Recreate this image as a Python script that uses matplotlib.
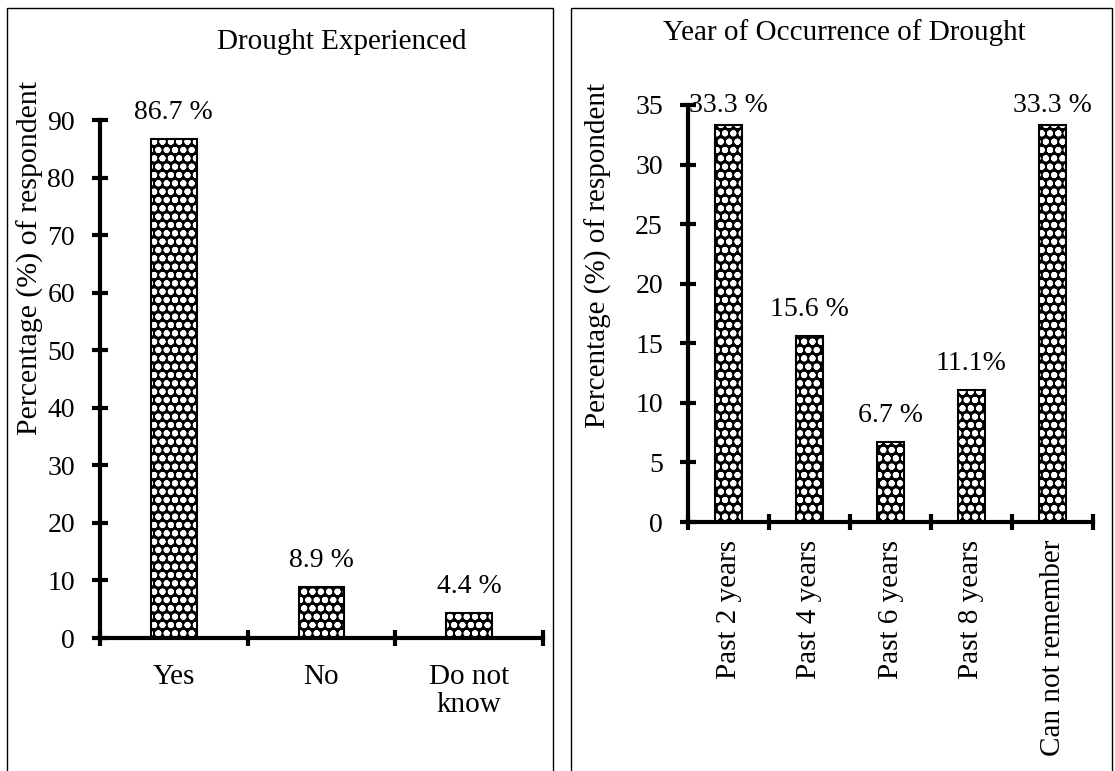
import numpy as np
import matplotlib
matplotlib.use("Agg")
import matplotlib.pyplot as plt
from matplotlib.patches import Rectangle

# data
exp_cats = ["Yes", "No", "Do not\nknow"]
exp_vals = [86.7, 8.9, 4.4]
exp_labels = ["86.7 %", "8.9 %", "4.4 %"]

year_cats = ["Past 2 years", "Past 4 years", "Past 6 years", "Past 8 years", "Can not remember"]
year_vals = [33.3, 15.6, 6.7, 11.1, 33.3]
year_labels = ["33.3 %", "15.6 %", "6.7 %", "11.1%", "33.3 %"]

plt.rcParams['font.family'] = ['Liberation Serif', 'DejaVu Serif']
plt.rcParams['font.size'] = 20
plt.rcParams['hatch.linewidth'] = 2.0

W, H = 1115, 771
fig = plt.figure(figsize=(W / 100, H / 100), dpi=100)

# panel frames
fig.add_artist(Rectangle((7 / W, -0.05), 546 / W, 1 - 8 / H + 0.05, transform=fig.transFigure,
                         fill=False, edgecolor='black', lw=1.0))
fig.add_artist(Rectangle((571 / W, -0.05), 541 / W, 1 - 8 / H + 0.05, transform=fig.transFigure,
                         fill=False, edgecolor='black', lw=1.0))


def style_axes(ax, n, ymax, step):
    ax.set_xlim(-0.5, n - 0.5)
    ax.set_ylim(0, ymax)
    ax.set_yticks(np.arange(0, ymax + 1, step))
    ax.set_xticks(np.arange(-0.5, n, 1.0), minor=True)
    ax.spines['top'].set_visible(False)
    ax.spines['right'].set_visible(False)
    for s in ['left', 'bottom']:
        ax.spines[s].set_linewidth(3.0)
    ax.tick_params(axis='y', direction='inout', length=12, width=3.0, pad=12)
    ax.tick_params(axis='x', which='major', length=0, labelsize=21)
    ax.tick_params(axis='x', which='minor', direction='inout', length=12, width=3.0)
    ax.patch.set_visible(False)


def draw_bars(ax, vals, labels, width, top):
    x = np.arange(len(vals))
    ax.bar(x, vals, width=width, facecolor='black', edgecolor='white', hatch='oo', lw=0)
    ax.bar(x, vals, width=width, fill=False, edgecolor='black', lw=1.5)
    for xi, v, t in zip(x, vals, labels):
        off = 19 if v < top else 14
        ax.annotate(t, (xi, v), xytext=(0, off), textcoords='offset points',
                    ha='center', va='center')


# left chart
ax1 = fig.add_axes([100 / W, 1 - 638 / H, 443 / W, 518 / H])
style_axes(ax1, 3, 90, 10)
draw_bars(ax1, exp_vals, exp_labels, 0.31, 90)
ax1.set_xticks(range(3))
ax1.set_xticklabels(exp_cats, linespacing=1.1)
ax1.tick_params(axis='x', which='major', pad=19)
fig.text(342 / W, 1 - 42 / H, "Drought Experienced", ha='center', va='center', fontsize=21)
fig.text(30 / W, 1 - 258 / H, "Percentage (%) of respondent", rotation=90,
         ha='center', va='center', fontsize=21.5)

# right chart
ax2 = fig.add_axes([688 / W, 1 - 522 / H, 405 / W, 417 / H])
style_axes(ax2, 5, 35, 5)
draw_bars(ax2, year_vals, year_labels, 0.335, 30)
ax2.set_xticks(range(5))
ax2.set_xticklabels(year_cats, rotation=90, va='top')
ax2.tick_params(axis='x', which='major', pad=13)
fig.text(844 / W, 1 - 33 / H, "Year of Occurrence of Drought", ha='center', va='center', fontsize=21)
fig.text(598 / W, 1 - 256 / H, "Percentage (%) of respondent", rotation=90,
         ha='center', va='center', fontsize=21)

fig.savefig("out.png", dpi=100)
